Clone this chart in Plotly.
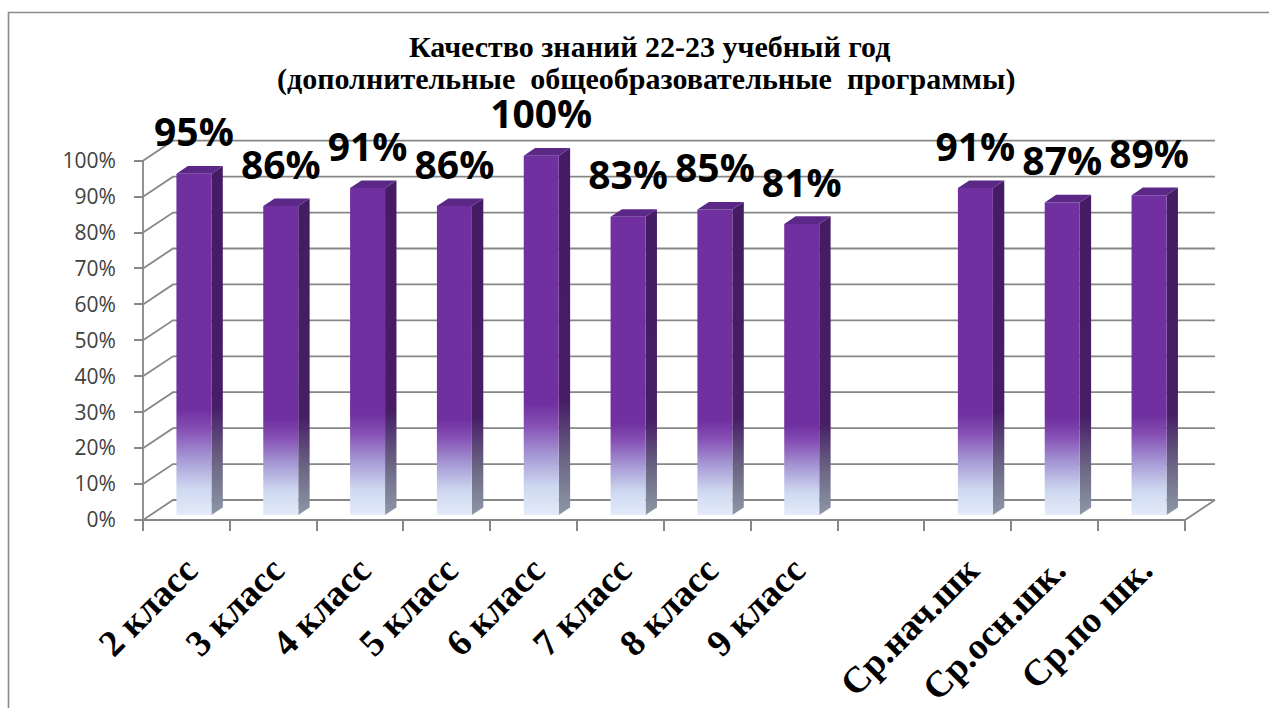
import plotly.graph_objects as go

# ---------------- data ----------------
categories = ["2 класс", "3 класс", "4 класс", "5 класс", "6 класс", "7 класс",
              "8 класс", "9 класс", "", "Ср.нач.шк", "Ср.осн.шк.", "Ср.по шк."]
values = [95, 86, 91, 86, 100, 83, 85, 81, None, 91, 87, 89]
y_ticks = [0, 10, 20, 30, 40, 50, 60, 70, 80, 90, 100]
y_tick_labels = [f"{t}%" for t in y_ticks]
title_line1 = "Качество знаний 22-23 учебный год"
title_line2 = "(дополнительные \u00a0общеобразовательные \u00a0программы)"

# ---------------- geometry / style ----------------
W, H = 1269, 708
PX_X0, SLOT_PX = 143.0, 86.83      # front-left corner of the floor, width of one category slot
PX_Y0, UNIT_PX = 520.0, 3.593      # y pixel of 0 %, pixels per percentage point
DEPTH_X = 30.0 / SLOT_PX           # 3-D depth offset (data units)
DEPTH_Y = 20.0 / UNIT_PX
F0, F1 = 0.25, 0.63                # bar front / back depth fraction
BAR_W = 0.403
N = len(categories)

GRID = "#878787"
FRONT_SCALE = [[0.0, "#e4ecf9"], [0.08, "#cdd7f0"], [0.17, "#a495d3"],
               [0.25, "#8650b5"], [0.31, "#7030a0"], [1.0, "#7030a0"]]
SIDE_SCALE = [[0.0, "#8e98a6"], [0.15, "#6b6684"], [0.31, "#471d66"], [1.0, "#451b64"]]
TOP_COLOR = "#5b2888"

fig = go.Figure()

# back wall, left wall diagonals, floor and front axis line
gx, gy = [], []
for t in y_ticks:
    gx += [0, DEPTH_X, N + DEPTH_X, None]
    gy += [t, t + DEPTH_Y, t + DEPTH_Y, None]
gx += [0, 0, None, 0, N, N + DEPTH_X, None]
gy += [y_ticks[0], y_ticks[-1], None, 0, 0, DEPTH_Y, None]
fig.add_trace(go.Scatter(x=gx, y=gy, mode="lines", line=dict(color=GRID, width=1.8),
                         hoverinfo="skip", showlegend=False))

# bars
lab_x, lab_y, lab_t = [], [], []
for i, (cat, v) in enumerate(zip(categories, values)):
    if v is None:
        continue
    cx = i + 0.5
    xl = cx - BAR_W / 2 + F0 * DEPTH_X
    xr = xl + BAR_W
    yb = F0 * DEPTH_Y
    yt = yb + v
    ddx = (F1 - F0) * DEPTH_X
    ddy = (F1 - F0) * DEPTH_Y
    # side face
    fig.add_trace(go.Scatter(
        x=[xr, xr + ddx, xr + ddx, xr, xr], y=[yb, yb + ddy, yt + ddy, yt, yb],
        mode="lines", line=dict(width=0), fill="toself",
        fillgradient=dict(type="vertical", start=yb, stop=yt + ddy, colorscale=SIDE_SCALE),
        hoverinfo="skip", showlegend=False))
    # front face
    fig.add_trace(go.Scatter(
        x=[xl, xr, xr, xl, xl], y=[yb, yb, yt, yt, yb],
        mode="lines", line=dict(width=0), fill="toself",
        fillgradient=dict(type="vertical", start=yb, stop=yt, colorscale=FRONT_SCALE),
        name=cat, hoverinfo="skip", showlegend=False))
    # top face
    fig.add_trace(go.Scatter(
        x=[xl, xr, xr + ddx, xl + ddx, xl], y=[yt, yt, yt + ddy, yt + ddy, yt],
        mode="lines", line=dict(width=0), fill="toself", fillcolor=TOP_COLOR,
        hoverinfo="skip", showlegend=False))
    lab_x.append((xl + xr) / 2)
    lab_y.append(yt + ddy + 2.8)
    lab_t.append(f"{v}%")

fig.add_trace(go.Scatter(
    x=lab_x, y=lab_y, text=lab_t, mode="text", textposition="top center",
    textfont=dict(family="Open Sans", size=39, color="#000000", weight="bold"),
    cliponaxis=False, hoverinfo="skip", showlegend=False))

tick_pos = [i + 0.5 for i, c in enumerate(categories) if c]
tick_txt = [c for c in categories if c]

fig.update_layout(
    width=W, height=H,
    margin=dict(l=0, r=0, t=0, b=0),
    paper_bgcolor="white", plot_bgcolor="white",
    showlegend=False,
    xaxis=dict(range=[-PX_X0 / SLOT_PX, (W - PX_X0) / SLOT_PX],
               anchor="free", position=(H - PX_Y0) / H,
               showgrid=False, zeroline=False, showline=False,
               tickmode="array", tickvals=tick_pos, ticktext=tick_txt,
               ticks="", tickangle=-45, ticklabelstandoff=20,
               tickfont=dict(family="Liberation Serif", size=37, color="#000000", weight="bold"),
               minor=dict(tickmode="array", tickvals=list(range(N + 1)),
                          ticks="outside", ticklen=10, tickwidth=1.8, tickcolor=GRID,
                          showgrid=False)),
    yaxis=dict(range=[-(H - PX_Y0) / UNIT_PX, PX_Y0 / UNIT_PX],
               anchor="free", position=PX_X0 / W,
               showgrid=False, zeroline=False, showline=False,
               tickmode="array", tickvals=y_ticks, ticktext=y_tick_labels,
               ticks="outside", ticklen=9, tickwidth=1.8, tickcolor=GRID,
               ticklabelstandoff=14,
               tickfont=dict(family="Open Sans", size=21, color="#404040")),
    shapes=[dict(type="rect", xref="paper", yref="paper",
                 x0=8.5 / W, x1=1.05, y0=-0.05, y1=1 - 12.5 / H,
                 line=dict(color="#8a8a8a", width=1.6), fillcolor="rgba(0,0,0,0)",
                 layer="below")],
    annotations=[
        dict(text=title_line1, xref="paper", yref="paper", x=649 / W, y=1 - 46 / H,
             xanchor="center", yanchor="middle", showarrow=False,
             font=dict(family="Liberation Serif", size=30, color="#000000", weight="bold")),
        dict(text=title_line2, xref="paper", yref="paper", x=646 / W, y=1 - 79 / H,
             xanchor="center", yanchor="middle", showarrow=False,
             font=dict(family="Liberation Serif", size=30, color="#000000", weight="bold")),
    ],
)

fig.write_html("out.html", config={"displayModeBar": False},
               post_script="document.body.style.margin='0';document.body.style.overflow='hidden';")
